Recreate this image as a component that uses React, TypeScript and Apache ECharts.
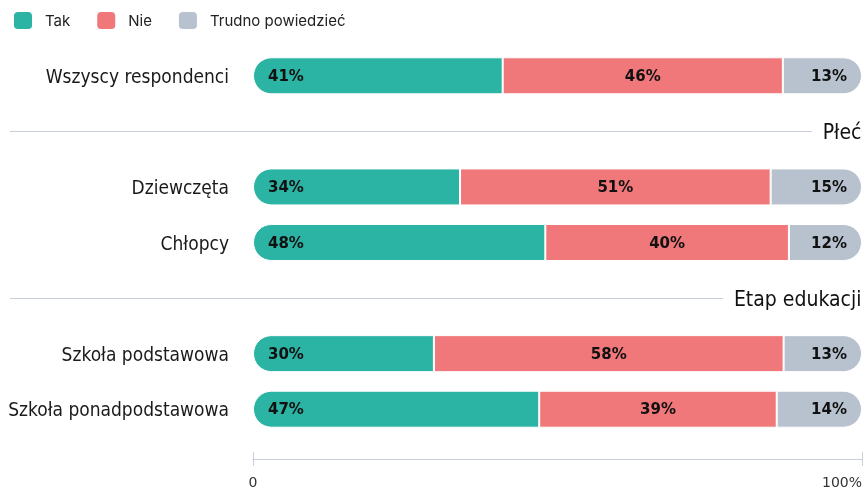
import React, { useEffect, useRef } from "react";
import * as echarts from "echarts";

const categories = ["Wszyscy respondenci", "sep1", "Dziewczęta", "Chłopcy", "sep2", "Szkoła podstawowa", "Szkoła ponadpodstawowa"];
const seriesNames = ["Tak", "Nie", "Trudno powiedzieć"];
const tak: (number | null)[] = [41, null, 34, 48, null, 30, 47];
const nie: (number | null)[] = [46, null, 51, 40, null, 58, 39];
const trudno: (number | null)[] = [13, null, 15, 12, null, 13, 14];
const sections = [
  { key: "sep1", label: "Płeć" },
  { key: "sep2", label: "Etap edukacji" },
];
const xTicks = [0, 100];

const colors = ["#2BB3A3", "#F0777A", "#B8C2CF"];
const condensed = "'Liberation Sans Narrow', 'DejaVu Sans Condensed', 'Roboto Condensed', sans-serif";

export default function App() {
  const ref = useRef<HTMLDivElement>(null);
  useEffect(() => {
    if (!ref.current) return;
    const chart = echarts.init(ref.current, undefined, { renderer: "svg" });
    const raw = [tak, nie, trudno];
    const sums = categories.map((_, i) => raw.reduce((s, arr) => s + (arr[i] ?? 0), 0));
    const norm = (arr: (number | null)[]) =>
      arr.map((v, i) => (v == null ? null : { value: (v / sums[i]) * 100, raw: v }));

    const barSeries = raw.map((arr, k) => ({
      name: seriesNames[k],
      type: "bar",
      stack: "total",
      xAxisIndex: 0,
      yAxisIndex: 0,
      barWidth: 37,
      data: norm(arr),
      itemStyle: {
        color: colors[k],
        borderColor: "#ffffff",
        borderWidth: 1,
        borderRadius: k === 0 ? [19, 0, 0, 19] : k === 2 ? [0, 19, 19, 0] : 0,
      },
      label: {
        show: true,
        position: k === 0 ? "insideLeft" : k === 2 ? "insideRight" : "inside",
        distance: k === 1 ? 5 : 15,
        formatter: (p: any) => `${p.data.raw}%`,
        fontFamily: "'DejaVu Sans', sans-serif",
        fontWeight: "bold",
        fontSize: 15,
        color: "#111111",
      },
      emphasis: { disabled: true },
    }));

    const option: any = {
      animation: false,
      legend: {
        data: seriesNames,
        left: 12,
        top: 10,
        padding: 0,
        icon: "roundRect",
        itemWidth: 20,
        itemHeight: 19,
        itemGap: 25,
        selectedMode: false,
        textStyle: {
          fontFamily: "Inter, sans-serif",
          fontSize: 15,
          color: "#222222",
          padding: [0, 0, 0, 7],
        },
      },
      grid: [
        { left: 253, right: 3, top: 48, bottom: 51 },
        { left: 10, right: 3, top: 48, bottom: 51 },
      ],
      xAxis: [
        {
          type: "value",
          gridIndex: 0,
          min: xTicks[0],
          max: xTicks[1],
          interval: 100,
          position: "bottom",
          offset: 22,
          splitLine: { show: false },
          axisLine: { show: true, lineStyle: { color: "#C8CFDA", width: 1 } },
          axisTick: { show: true, length: 7, inside: false, lineStyle: { color: "#C8CFDA" } },
          axisLabel: {
            show: true,
            margin: 16,
            fontSize: 14,
            color: "#333333",
            fontFamily: "'DejaVu Sans', sans-serif",
            alignMinLabel: "center",
            alignMaxLabel: "right",
            formatter: (v: number) => (v === 0 ? "0" : `${v}%`),
          },
        },
        {
          type: "value",
          gridIndex: 0,
          min: xTicks[0],
          max: xTicks[1],
          interval: 100,
          position: "bottom",
          offset: 22,
          splitLine: { show: false },
          axisLine: { show: false },
          axisTick: { show: true, length: 7, inside: true, lineStyle: { color: "#C8CFDA" } },
          axisLabel: { show: false },
        },
        {
          type: "value",
          gridIndex: 1,
          min: 0,
          max: 100,
          show: false,
        },
      ],
      yAxis: [
        {
          type: "category",
          gridIndex: 0,
          inverse: true,
          data: categories,
          axisLine: { show: false },
          axisTick: { show: false },
          axisLabel: {
            margin: 24,
            fontSize: 19,
            color: "#1a1a1a",
            fontFamily: condensed,
            formatter: (v: string) => (v.startsWith("sep") ? "" : v),
          },
        },
        {
          type: "category",
          gridIndex: 1,
          inverse: true,
          data: categories,
          show: false,
        },
      ],
      series: [
        ...barSeries,
        {
          name: "separators",
          type: "line",
          xAxisIndex: 2,
          yAxisIndex: 1,
          data: [],
          silent: true,
          z: 1,
          markLine: {
            silent: true,
            symbol: "none",
            z: 1,
            label: { show: false },
            lineStyle: { color: "#C8CFDA", width: 1, type: "solid" },
            data: sections.map((s) => ({ yAxis: s.key })),
          },
        },
        {
          name: "sectionLabels",
          type: "scatter",
          xAxisIndex: 2,
          yAxisIndex: 1,
          symbolSize: 1,
          itemStyle: { opacity: 0 },
          silent: true,
          z: 10,
          zlevel: 0,
          data: sections.map((s) => ({ value: [100, s.key], name: s.label })),
          label: {
            show: true,
            position: "left",
            distance: 0,
            formatter: (p: any) => p.name,
            fontSize: 21,
            color: "#111111",
            opacity: 1,
            fontFamily: condensed,
            backgroundColor: "#ffffff",
            padding: [3, 0, 3, 11],
          },
        },
      ],
    };
    chart.setOption(option);
    return () => chart.dispose();
  }, []);
  return <div ref={ref} style={{ position: "fixed", left: 0, top: 0, width: 865, height: 489 }} />;
}
